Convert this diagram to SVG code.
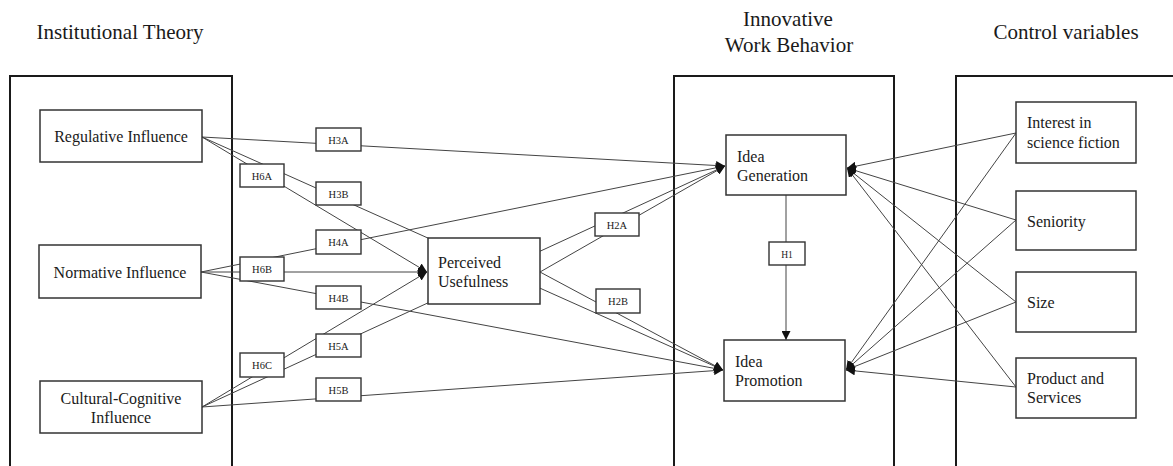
<svg xmlns="http://www.w3.org/2000/svg" width="1173" height="466" viewBox="0 0 1173 466">
<style>
.hdr{font-family:"Liberation Serif","Times New Roman",serif;font-size:21px;fill:#1a1a1a}
.txt{font-family:"Liberation Serif","Times New Roman",serif;font-size:16px;fill:#1a1a1a}
.lbl{font-family:"Liberation Serif","Times New Roman",serif;font-size:10.5px;fill:#1a1a1a}
.frame{fill:none;stroke:#1a1a1a;stroke-width:2}
.node{fill:#fff;stroke:#333;stroke-width:1.5}
.lbox{fill:#fff;stroke:#333;stroke-width:1.4}
.edge{fill:none;stroke:#444;stroke-width:1;marker-end:url(#arr)}
.plain{fill:none;stroke:#444;stroke-width:1}
</style>
<defs>
<marker id="arr" viewBox="0 0 10 10" refX="10" refY="5" markerWidth="9" markerHeight="9" markerUnits="userSpaceOnUse" orient="auto">
<path d="M0,0 L10,5 L0,10 z" fill="#111"/>
</marker>
</defs>
<rect width="1173" height="466" fill="#fff"/>
<g id="headers">
<text class="hdr" x="120" y="39" text-anchor="middle">Institutional Theory</text>
<text class="hdr" x="788" y="26" text-anchor="middle">Innovative</text>
<text class="hdr" x="789" y="52" text-anchor="middle">Work Behavior</text>
<text class="hdr" x="1066" y="39" text-anchor="middle">Control variables</text>
</g>
<g id="frames">
<path class="frame" d="M10,470 V76 H232 V470"/>
<path class="frame" d="M674,470 V76 H894 V470"/>
<path class="frame" d="M956,470 V76 H1175"/>
</g>
<g id="connectors">
<line class="edge" x1="202" y1="137" x2="725" y2="166"/>
<line class="edge" x1="202" y1="137" x2="427" y2="272"/>
<line class="edge" x1="202" y1="137" x2="723" y2="370"/>
<line class="edge" x1="201" y1="272" x2="725" y2="166"/>
<line class="edge" x1="201" y1="272" x2="427" y2="272"/>
<line class="edge" x1="201" y1="272" x2="723" y2="370"/>
<line class="edge" x1="202" y1="407" x2="725" y2="166"/>
<line class="edge" x1="202" y1="407" x2="427" y2="272"/>
<line class="edge" x1="202" y1="407" x2="723" y2="370"/>
<line class="edge" x1="540" y1="272" x2="725" y2="166"/>
<line class="edge" x1="540" y1="272" x2="723" y2="370"/>
<line class="edge" x1="786" y1="195" x2="786" y2="340"/>
<line class="edge" x1="1016" y1="133" x2="847" y2="168"/>
<line class="edge" x1="1016" y1="133" x2="846" y2="370"/>
<line class="edge" x1="1016" y1="220" x2="847" y2="168"/>
<line class="edge" x1="1016" y1="220" x2="846" y2="370"/>
<line class="edge" x1="1016" y1="302" x2="847" y2="168"/>
<line class="edge" x1="1016" y1="302" x2="846" y2="370"/>
<line class="edge" x1="1016" y1="387" x2="847" y2="168"/>
<line class="edge" x1="1016" y1="387" x2="846" y2="370"/>
</g>
<g id="regulative">
<rect class="node" x="40" y="110" width="162" height="52"/>
<text class="txt" x="121" y="142" text-anchor="middle">Regulative Influence</text>
</g>
<g id="normative">
<rect class="node" x="39" y="245" width="162" height="53"/>
<text class="txt" x="120" y="278" text-anchor="middle">Normative Influence</text>
</g>
<g id="cultural">
<rect class="node" x="40" y="381" width="162" height="52"/>
<text class="txt" x="121" y="404" text-anchor="middle">Cultural-Cognitive</text>
<text class="txt" x="121" y="423" text-anchor="middle">Influence</text>
</g>
<g id="perceived">
<rect class="node" x="428" y="238" width="112" height="66"/>
<text class="txt" x="438" y="268">Perceived</text>
<text class="txt" x="438" y="287">Usefulness</text>
</g>
<g id="ideageneration">
<rect class="node" x="726" y="135" width="120" height="60"/>
<text class="txt" x="737" y="162">Idea</text>
<text class="txt" x="737" y="181">Generation</text>
</g>
<g id="ideapromotion">
<rect class="node" x="724" y="340" width="121" height="61"/>
<text class="txt" x="735" y="367">Idea</text>
<text class="txt" x="735" y="386">Promotion</text>
</g>
<g id="interest">
<rect class="node" x="1016" y="102" width="120" height="61"/>
<text class="txt" x="1027" y="128">Interest in</text>
<text class="txt" x="1027" y="148">science fiction</text>
</g>
<g id="seniority">
<rect class="node" x="1016" y="191" width="120" height="59"/>
<text class="txt" x="1027" y="227">Seniority</text>
</g>
<g id="size">
<rect class="node" x="1016" y="272" width="120" height="60"/>
<text class="txt" x="1027" y="308">Size</text>
</g>
<g id="products">
<rect class="node" x="1016" y="358" width="120" height="60"/>
<text class="txt" x="1027" y="384">Product and</text>
<text class="txt" x="1027" y="403">Services</text>
</g>
<g id="labels">
<g id="h3a"><rect class="lbox" x="316" y="128" width="45" height="23"/><text class="lbl" x="338.5" y="143.5" text-anchor="middle">H3A</text></g>
<g id="h6a"><rect class="lbox" x="240" y="164" width="44" height="23"/><text class="lbl" x="262" y="179.5" text-anchor="middle">H6A</text></g>
<g id="h3b"><rect class="lbox" x="316" y="182" width="45" height="23"/><text class="lbl" x="338.5" y="197.5" text-anchor="middle">H3B</text></g>
<g id="h4a"><rect class="lbox" x="316" y="230" width="45" height="24"/><text class="lbl" x="338.5" y="246" text-anchor="middle">H4A</text></g>
<g id="h6b"><rect class="lbox" x="240" y="257" width="44" height="24"/><text class="lbl" x="262" y="273" text-anchor="middle">H6B</text></g>
<g id="h4b"><rect class="lbox" x="316" y="286" width="45" height="23"/><text class="lbl" x="338.5" y="301.5" text-anchor="middle">H4B</text></g>
<g id="h5a"><rect class="lbox" x="316" y="334" width="45" height="23"/><text class="lbl" x="338.5" y="349.5" text-anchor="middle">H5A</text></g>
<g id="h6c"><rect class="lbox" x="240" y="353" width="44" height="24"/><text class="lbl" x="262" y="369" text-anchor="middle">H6C</text></g>
<g id="h5b"><rect class="lbox" x="316" y="378" width="45" height="23"/><text class="lbl" x="338.5" y="393.5" text-anchor="middle">H5B</text></g>
<g id="h2a"><rect class="lbox" x="595" y="213" width="44" height="23"/><text class="lbl" x="617" y="228.5" text-anchor="middle">H2A</text></g>
<g id="h2b"><rect class="lbox" x="596" y="289" width="44" height="24"/><text class="lbl" x="618" y="305" text-anchor="middle">H2B</text></g>
<g id="h1"><rect class="lbox" x="769" y="242" width="36" height="23"/><text class="lbl" x="787" y="257.5" text-anchor="middle" style="font-size:9.5px">H1</text></g>
</g>
</svg>
